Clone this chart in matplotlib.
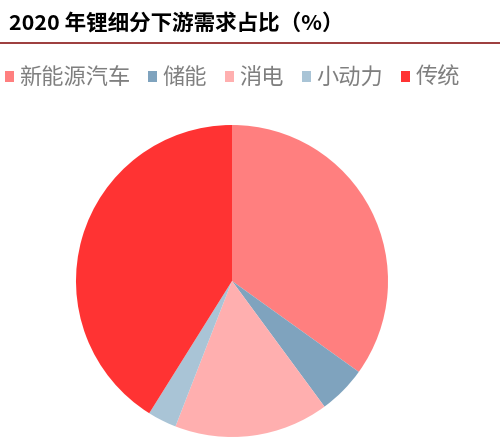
import matplotlib
matplotlib.use("Agg")
import matplotlib.pyplot as plt
from matplotlib.patches import Patch
from matplotlib.lines import Line2D

plt.rcParams['font.family'] = ['Noto Sans CJK SC', 'DejaVu Sans']

categories = ['新能源汽车', '储能', '消电', '小动力', '传统']
shares = [34.9, 5.0, 16.0, 3.0, 41.1]
colors = ['#FF7F7F', '#7FA3BE', '#FFAFAF', '#A9C4D6', '#FF3333']

fig = plt.figure(figsize=(5, 4.46), dpi=100)

# title and rule
fig.text(0.018, 0.949, '2020 年锂细分下游需求占比（%）', fontsize=15.5, fontweight='bold',
         color='black', va='center', ha='left')
fig.add_artist(Line2D([0, 1], [0.903, 0.903], color='#8B1A1A', lw=1.2))

# pie, center (232, 281) px, radius 156 px
W, H = 500, 446
cx, cy, r = 232, 281, 156
ax = fig.add_axes([(cx - r) / W, (H - cy - r) / H, 2 * r / W, 2 * r / H])
ax.pie(shares, colors=colors, startangle=90, counterclock=False, radius=1,
       wedgeprops=dict(linewidth=0))
ax.set_xlim(-1, 1)
ax.set_ylim(-1, 1)
ax.set_aspect('equal')
ax.axis('off')

handles = [Patch(facecolor=c, edgecolor='none') for c in colors]
fig.legend(handles, categories, loc='center left', bbox_to_anchor=(-0.008, 0.826),
           ncol=5, frameon=False, fontsize=16, labelcolor='#7F7F7F',
           handlelength=0.4, handleheight=0.4, handletextpad=0.25,
           columnspacing=0.8, borderaxespad=0)

fig.savefig('out.png', dpi=100)
